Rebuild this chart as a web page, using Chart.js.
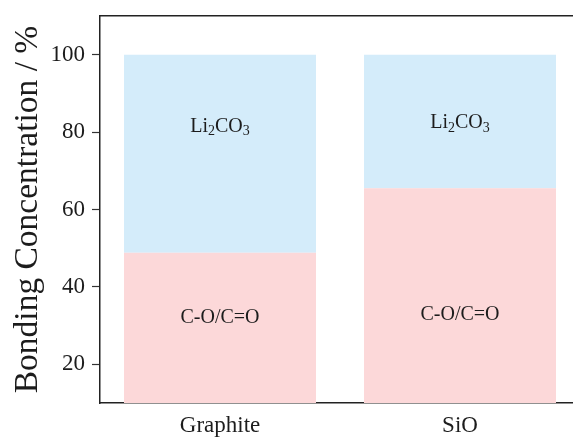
<!DOCTYPE html>
<html>
<head>
<meta charset="utf-8">
<script src="https://cdn.jsdelivr.net/npm/chart.js@4.4.1/dist/chart.umd.min.js"></script>
<style>
  html, body { margin: 0; padding: 0; overflow: hidden; background: #ffffff; }
  #wrap { width: 580px; height: 438px; }
</style>
</head>
<body>
<div id="wrap"><canvas id="chart" width="580" height="438"></canvas></div>
<script>
// Samples and bonding species (percent of total)
const categories = ['Graphite', 'SiO'];
const coValues = [48.8, 65.5];        // C-O/C=O
const li2co3Values = [51.2, 34.5];    // Li2CO3
const yTicks = [20, 40, 60, 80, 100];

// In-bar species labels: y value at which each name is written
const coLabelY = [32, 32.7];
const liLabelY = [81.4, 82.3];

const SERIF = '"Liberation Serif", "DejaVu Serif", serif';
const INK = '#1c1c1c';

// Writes the species names inside each stacked bar segment
const speciesLabels = {
  id: 'speciesLabels',
  afterDatasetsDraw(chart) {
    const { ctx, scales: { x, y } } = chart;
    ctx.save();
    ctx.fillStyle = INK;
    ctx.textBaseline = 'middle';
    categories.forEach((c, i) => {
      const cx = x.getPixelForValue(i);
      // C-O/C=O
      ctx.font = '20px ' + SERIF;
      ctx.textAlign = 'center';
      ctx.fillText('C-O/C=O', cx, y.getPixelForValue(coLabelY[i]));
      // Li2CO3 with subscripts
      const parts = [['Li', false], ['2', true], ['CO', false], ['3', true]];
      const big = '20px ' + SERIF, small = '14px ' + SERIF;
      let total = 0;
      parts.forEach(([t, sub]) => { ctx.font = sub ? small : big; total += ctx.measureText(t).width; });
      let px = cx - total / 2;
      const py = y.getPixelForValue(liLabelY[i]);
      ctx.textAlign = 'left';
      parts.forEach(([t, sub]) => {
        ctx.font = sub ? small : big;
        ctx.fillText(t, px, sub ? py + 5 : py);
        px += ctx.measureText(t).width;
      });
    });
    ctx.restore();
  }
};

new Chart(document.getElementById('chart'), {
  type: 'bar',
  data: {
    labels: categories,
    datasets: [
      { label: 'C-O/C=O', data: coValues, backgroundColor: 'rgb(252,216,217)', borderWidth: 0 },
      { label: 'Li2CO3', data: li2co3Values, backgroundColor: 'rgb(212,236,250)', borderWidth: 0 }
    ]
  },
  options: {
    responsive: false,
    animation: false,
    layout: { padding: 0 },
    datasets: { bar: { categoryPercentage: 1, barPercentage: 0.8 } },
    plugins: { legend: { display: false }, tooltip: { enabled: false } },
    scales: {
      x: {
        stacked: true,
        position: 'bottom',
        grid: { display: false, drawTicks: false },
        border: { display: true, color: '#222', width: 1.5 },
        ticks: { color: INK, font: { family: SERIF, size: 23 }, padding: 9 },
        afterFit(s) { s.height = 35; s.paddingLeft = 0; s.paddingRight = 0; }
      },
      xTop: {
        type: 'category',
        position: 'top',
        grid: { display: false, drawTicks: false },
        border: { display: true, color: '#222', width: 1.5 },
        ticks: { display: false },
        afterFit(s) { s.height = 16; s.paddingLeft = 0; s.paddingRight = 0; }
      },
      y: {
        stacked: true,
        min: 10,
        max: 110,
        afterBuildTicks(s) { s.ticks = yTicks.map(v => ({ value: v })); },
        grid: { drawOnChartArea: false, drawTicks: true, tickLength: 8, tickColor: '#333', tickWidth: 1.2 },
        border: { display: true, color: '#222', width: 1.5 },
        ticks: { color: INK, font: { family: SERIF, size: 23 }, padding: 7 },
        title: {
          display: true,
          text: 'Bonding Concentration / %',
          color: INK,
          font: { family: SERIF, size: 33.5 },
          padding: { top: 8, bottom: 0 }
        },
        afterFit(s) { s.width = 100; s.paddingTop = 0; s.paddingBottom = 0; }
      }
    }
  },
  plugins: [speciesLabels]
});
</script>
</body>
</html>
